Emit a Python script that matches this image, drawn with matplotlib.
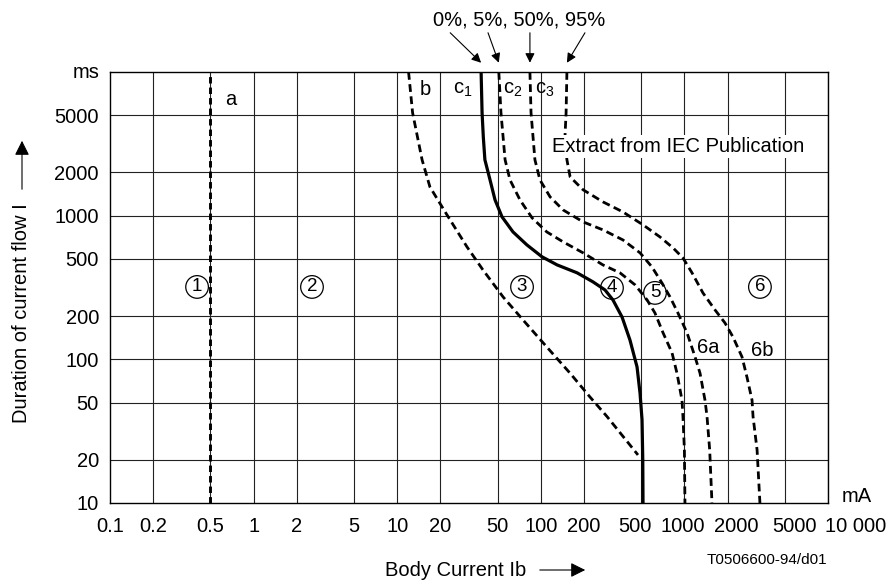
import matplotlib.pyplot as plt
import matplotlib.transforms as mtransforms
from matplotlib.patches import FancyArrowPatch

plt.rcParams["font.family"] = ["Liberation Sans", "DejaVu Sans"]
plt.rcParams["mathtext.fontset"] = "custom"
plt.rcParams["mathtext.rm"] = "Liberation Sans"
plt.rcParams["mathtext.default"] = "regular"

# axis ticks
x_ticks = [0.1, 0.2, 0.5, 1, 2, 5, 10, 20, 50, 100, 200, 500, 1000, 2000, 5000, 10000]
x_tick_labels = ["0.1", "0.2", "0.5", "1", "2", "5", "10", "20", "50", "100", "200",
                 "500", "1000", "2000", "5000", "10 000"]
y_ticks = [10, 20, 50, 100, 200, 500, 1000, 2000, 5000]
y_tick_labels = ["10", "20", "50", "100", "200", "500", "1000", "2000", "5000"]

# curves (mA, ms)
a_x = [0.5, 0.5]
a_y = [10, 10000]

b_x = [12.0, 12.8, 14.9, 16.9, 22.2, 30.6, 39.5, 54.6, 75.2, 110, 160, 220, 289, 475]
b_y = [10000, 5200, 2450, 1585, 1014, 607, 420, 272, 188, 122, 80, 54.7, 40, 21.6]

c1_x = [38.4, 39, 39.8, 40.8, 44.3, 48, 53.7, 64, 80, 102, 130, 179, 231, 280, 318,
        368, 418, 468, 491, 507, 513, 515]
c1_y = [10000, 5200, 3500, 2450, 1775, 1288, 981, 771, 626, 517, 454, 400, 346, 304,
        259, 197, 136, 88.5, 58, 37.9, 20, 10]

c2_x = [51, 52.8, 56.4, 61, 71.6, 86.9, 110, 143, 197, 271, 356, 453, 550, 624, 710,
        820, 888, 962, 977, 1000, 1009]
c2_y = [10000, 5200, 2450, 1775, 1288, 966, 771, 657, 551, 454, 400, 330, 259, 210,
        153, 111, 80, 52, 40, 23.4, 10]

c3_x = [84, 85.5, 91, 98.6, 116, 143, 197, 271, 373, 491, 594, 698, 794, 902, 1043,
        1186, 1285, 1391, 1437, 1500, 1556]
c3_y = [10000, 5200, 2450, 1775, 1352, 1096, 905, 796, 678, 551, 440, 340, 272, 210,
        153, 104, 80, 52, 40, 23.4, 10]

c95_x = [152, 150, 147, 152, 160, 197, 271, 373, 515, 676, 833, 977, 1130, 1346,
         1633, 1918, 2180, 2518, 2729, 2958, 3006, 3207, 3357]
c95_y = [10000, 5200, 3373, 2450, 1862, 1514, 1247, 1062, 863, 711, 597, 508, 400,
         290, 221, 179, 143, 104, 75, 52, 40, 23.4, 10]

# zone labels
zone_names = ["1", "2", "3", "4", "5", "6"]
zone_x = [0.404, 2.55, 74, 313, 624, 3357]
zone_y = [319, 319, 319, 314, 290, 319]

curve_names = ["a", "b", "c$_1$", "c$_2$", "c$_3$", "6a", "6b"]
curve_name_x = [0.69, 15.6, 28.7, 64, 107, 1459, 3467]
curve_name_y = [6400, 7520, 7520, 7520, 7520, 120, 116]

# arrows from the percentage note to the top of the c curves
pct_text = "0%, 5%, 50%, 95%"
arrow_start_x = [23.4, 42.9, 84, 203]
arrow_end_x = [38.4, 51, 84, 152]

FS = 14.5

fig = plt.figure(figsize=(8.89, 5.81), dpi=100)
ax = fig.add_axes([110 / 889, 1 - 503 / 581, 718 / 889, 431 / 581])
ax.set_xscale("log")
ax.set_yscale("log")
ax.set_xlim(0.1, 10000)
ax.set_ylim(10, 10000)

ax.set_xticks(x_ticks)
ax.set_xticklabels(x_tick_labels, fontsize=FS)
ax.set_yticks(y_ticks)
ax.set_yticklabels(y_tick_labels, fontsize=FS)
ax.minorticks_off()
ax.tick_params(axis="x", length=0, pad=10)
ax.tick_params(axis="y", length=0, pad=8)

# nudge the right-hand x labels the way they sit in the original
label_shift = {"500": -6, "1000": -2, "2000": 9, "5000": 10, "10 000": 28}
for lab in ax.get_xticklabels():
    dx = label_shift.get(lab.get_text(), 0)
    if dx:
        lab.set_transform(lab.get_transform()
                          + mtransforms.ScaledTranslation(dx / 100, 0, fig.dpi_scale_trans))

for v in x_ticks[1:]:
    ax.axvline(v, color="#222222", lw=0.8, zorder=1)
for v in y_ticks[1:]:
    ax.axhline(v, color="#222222", lw=0.8, zorder=1)
for s in ax.spines.values():
    s.set_linewidth(1.0)
    s.set_zorder(4)

dash = (0, (2.8, 1.6))
ax.plot(a_x, a_y, color="black", lw=2.1, linestyle=(0, (2.2, 1.4)), zorder=3)
ax.plot(b_x, b_y, color="black", lw=2.0, linestyle=dash, zorder=3)
ax.plot(c1_x, c1_y, color="black", lw=2.3, zorder=3, solid_joinstyle="round")
ax.plot(c2_x, c2_y, color="black", lw=2.0, linestyle=dash, zorder=3)
ax.plot(c3_x, c3_y, color="black", lw=2.0, linestyle=dash, zorder=3)
ax.plot(c95_x, c95_y, color="black", lw=2.0, linestyle=dash, zorder=3)

for name, x, y in zip(zone_names, zone_x, zone_y):
    ax.text(x, y, name, fontsize=FS - 1, ha="center", va="center", zorder=6,
            bbox=dict(boxstyle="circle,pad=0.15", fc="none", ec="black", lw=0.9))

for name, x, y in zip(curve_names, curve_name_x, curve_name_y):
    ax.text(x, y, name, fontsize=FS, ha="center", va="center", zorder=6)

ax.text(119.7, 3013, "Extract from IEC Publication", fontsize=FS, ha="left",
        va="center", zorder=6,
        bbox=dict(boxstyle="square,pad=0.1", fc="white", ec="none"))

ax.text(70.5, 23100, pct_text, fontsize=FS, ha="center", va="center", clip_on=False)
for x0, x1 in zip(arrow_start_x, arrow_end_x):
    ax.annotate("", xy=(x1, 11600), xytext=(x0, 18750), annotation_clip=False,
                arrowprops=dict(arrowstyle="-|>", color="black", lw=0.8,
                                mutation_scale=14, shrinkA=0, shrinkB=0))

fig.text(100 / 889, 1 - 73 / 581, "ms", fontsize=FS, ha="right", va="center")
fig.text(842 / 889, 1 - 497 / 581, "mA", fontsize=FS, ha="left", va="center")

fig.text(22 / 889, 1 - 313 / 581, "Duration of current flow I", fontsize=FS,
         rotation=90, ha="center", va="center")
fig.add_artist(FancyArrowPatch(
    (22 / 889, 1 - 192 / 581), (22 / 889, 1 - 138 / 581), transform=fig.transFigure,
    arrowstyle="-|>", mutation_scale=22, color="black", lw=0.8))

fig.text(456 / 889, 1 - 570 / 581, "Body Current Ib", fontsize=FS, ha="center",
         va="center")
fig.add_artist(FancyArrowPatch(
    (537 / 889, 1 - 570 / 581), (588 / 889, 1 - 570 / 581), transform=fig.transFigure,
    arrowstyle="-|>", mutation_scale=22, color="black", lw=0.8))

fig.text(707 / 889, 1 - 560 / 581, "T0506600-94/d01", fontsize=11, ha="left",
         va="center")

fig.savefig("out.png", dpi=100)
